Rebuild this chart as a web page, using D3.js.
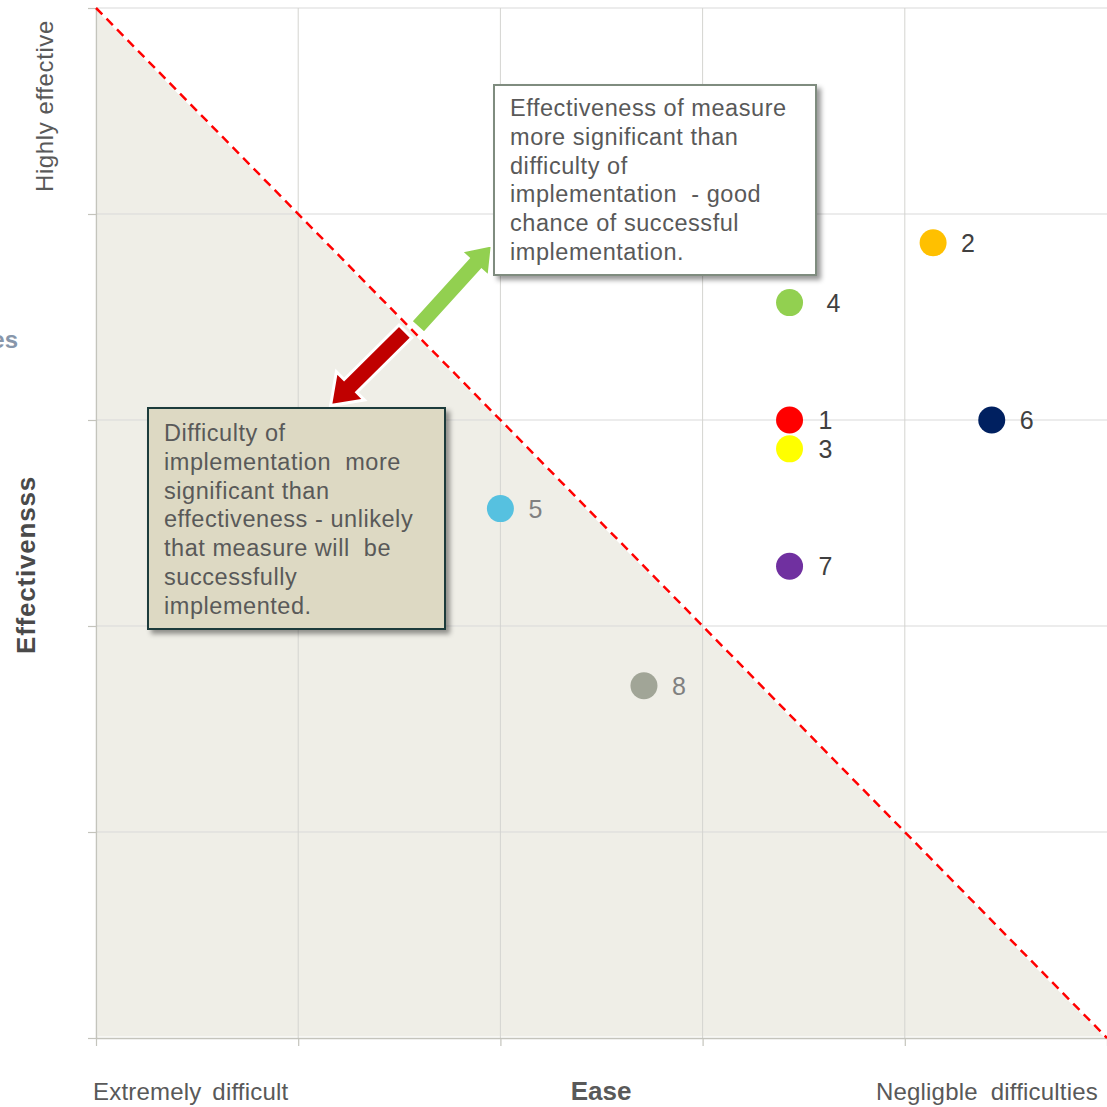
<!DOCTYPE html>
<html>
<head>
<meta charset="utf-8">
<script src="https://cdn.jsdelivr.net/npm/d3@7/dist/d3.min.js"></script>
<style>
  html, body { margin: 0; padding: 0; background: #fff; }
  svg { display: block; font-family: "Liberation Sans", Arial, sans-serif; }
</style>
</head>
<body>
<svg id="chart" width="1107" height="1107"></svg>
<script>
// Measures rated on ease of implementation (x) and effectiveness (y), 0–5 scale
const measureIds   = ["1", "2", "3", "4", "5", "6", "7", "8"];
const easeValues   = [3.43, 4.14, 3.43, 3.43, 2.0, 4.43, 3.43, 2.71];
const effectValues = [3.0, 3.86, 2.86, 3.57, 2.57, 3.0, 2.29, 1.71];
const measureColors = ["#ff0000", "#ffc000", "#ffff00", "#92d050", "#56c1e0", "#002060", "#7030a0", "#a1a597"];
const labelColors   = ["#404040", "#404040", "#404040", "#404040", "#808080", "#404040", "#404040", "#808080"];
const labelOffsets  = [29, 28, 29, 37, 28, 28, 29, 28];

const tickValues = [0, 1, 2, 3, 4, 5];
const xAxisLabels = ["Extremely difficult", "Ease", "Negligble difficulties"];
const yAxisLabels = ["Highly effective", "Effectivensss"];

const goodNote = ["Effectiveness of measure", "more significant than", "difficulty of",
                  "implementation  - good", "chance of successful", "implementation."];
const badNote  = ["Difficulty of", "implementation  more", "significant than",
                  "effectiveness - unlikely", "that measure will  be", "successfully", "implemented."];

// Arrow annotations in data units: [tailX, tailY, tipX, tipY]
const goodArrow = [1.59, 3.45, 1.96, 3.85];
const badArrow  = [1.53, 3.43, 1.16, 3.07];

const svg = d3.select("#chart");
const x = d3.scaleLinear().domain([0, 5]).range([96, 1107]);
const y = d3.scaleLinear().domain([0, 5]).range([1038, 8]);

const defs = svg.append("defs");
const shadow = defs.append("filter").attr("id", "shadow")
  .attr("x", "-10%").attr("y", "-10%").attr("width", "130%").attr("height", "130%");
shadow.append("feDropShadow").attr("dx", 4).attr("dy", 4).attr("stdDeviation", 2.5)
  .attr("flood-color", "#000").attr("flood-opacity", 0.4);

// Shaded "unlikely" half below the diagonal
svg.append("path")
  .attr("d", d3.line()([[x(0), y(5)], [x(0), y(0)], [x(5), y(0)]]) + "Z")
  .attr("fill", "#efeee7")
  .attr("stroke", "#fff").attr("stroke-width", 3);

// Grid
const grid = svg.append("g");
grid.selectAll("line.h").data(tickValues.slice(1)).join("line")
  .attr("x1", x(0)).attr("x2", x(5))
  .attr("y1", d => y(d)).attr("y2", d => y(d))
  .attr("stroke", "#d9d9d9").attr("stroke-width", 1);
grid.selectAll("line.v").data(tickValues.slice(1, 5)).join("line")
  .attr("y1", y(0)).attr("y2", y(5))
  .attr("x1", d => x(d)).attr("x2", d => x(d))
  .attr("stroke", "#d4d4d0").attr("stroke-width", 1);

// Axes
const yAxis = svg.append("g").attr("transform", `translate(${x(0)},0)`)
  .call(d3.axisLeft(y).tickValues(tickValues).tickSize(8).tickSizeOuter(0).tickFormat(""));
const xAxis = svg.append("g").attr("transform", `translate(0,${y(0)})`)
  .call(d3.axisBottom(x).tickValues(tickValues).tickSize(8).tickSizeOuter(0).tickFormat(""));
[yAxis, xAxis].forEach(a => {
  a.select(".domain").attr("stroke", "#c4c4bc").attr("stroke-width", 1.5);
  a.selectAll(".tick line").attr("stroke", "#c4c4bc").attr("stroke-width", 1.2);
});

// Diagonal divider
svg.append("line")
  .attr("x1", x(0)).attr("y1", y(5)).attr("x2", x(5)).attr("y2", y(0))
  .attr("stroke", "#ff0000").attr("stroke-width", 2.5)
  .attr("stroke-dasharray", "9,6");

// Arrow polygon along tail→tip
function arrowPath(a, shaft, headW, headL) {
  const x0 = x(a[0]), y0 = y(a[1]), x1 = x(a[2]), y1 = y(a[3]);
  const dx = x1 - x0, dy = y1 - y0, len = Math.hypot(dx, dy);
  const ux = dx / len, uy = dy / len, px = -uy, py = ux;
  const bx = x1 - ux * headL, by = y1 - uy * headL;
  const pts = [
    [x0 + px * shaft / 2, y0 + py * shaft / 2],
    [bx + px * shaft / 2, by + py * shaft / 2],
    [bx + px * headW / 2, by + py * headW / 2],
    [x1, y1],
    [bx - px * headW / 2, by - py * headW / 2],
    [bx - px * shaft / 2, by - py * shaft / 2],
    [x0 - px * shaft / 2, y0 - py * shaft / 2]
  ];
  return d3.line()(pts) + "Z";
}
svg.append("path").attr("d", arrowPath(goodArrow, 18, 38, 26))
  .attr("fill", "#92d050").attr("stroke", "#fff").attr("stroke-width", 3);
svg.append("path").attr("d", arrowPath(badArrow, 18, 40, 28))
  .attr("fill", "#c00000").attr("stroke", "#fff").attr("stroke-width", 3);

// Note boxes
function noteBox(bx, by, bw, bh, fill, stroke, lines, tx, ty) {
  const g = svg.append("g");
  g.append("rect").attr("x", bx).attr("y", by).attr("width", bw).attr("height", bh)
    .attr("fill", fill).attr("stroke", stroke).attr("stroke-width", 2)
    .attr("filter", "url(#shadow)");
  g.selectAll("text").data(lines).join("text")
    .attr("x", tx).attr("y", (d, i) => ty + i * 28.8)
    .attr("font-size", 23.5).attr("letter-spacing", 0.55).attr("fill", "#595959")
    .style("white-space", "pre")
    .text(d => d);
}
noteBox(494, 85, 322, 190, "#ffffff", "#7f8c7f", goodNote, 510, 116);
noteBox(148, 408, 297, 221, "#ddd9c3", "#1d3a3a", badNote, 164, 441);

// Measures
const pts = svg.append("g");
pts.selectAll("circle").data(measureIds).join("circle")
  .attr("cx", (d, i) => x(easeValues[i]))
  .attr("cy", (d, i) => y(effectValues[i]))
  .attr("r", 13.5)
  .attr("fill", (d, i) => measureColors[i]);
pts.selectAll("text").data(measureIds).join("text")
  .attr("x", (d, i) => x(easeValues[i]) + labelOffsets[i])
  .attr("y", (d, i) => y(effectValues[i]) + 9)
  .attr("font-size", 25)
  .attr("fill", (d, i) => labelColors[i])
  .text(d => d);

// Axis titles
svg.append("text").attr("x", 93).attr("y", 1100)
  .attr("font-size", 24).attr("letter-spacing", 0.2).attr("word-spacing", 4)
  .attr("fill", "#595959").text(xAxisLabels[0]);
svg.append("text").attr("x", 601).attr("y", 1100).attr("text-anchor", "middle")
  .attr("font-size", 26).attr("font-weight", "bold").attr("fill", "#595959").text(xAxisLabels[1]);
svg.append("text").attr("x", 1098).attr("y", 1100).attr("text-anchor", "end")
  .attr("font-size", 24).attr("letter-spacing", 0.2).attr("word-spacing", 6)
  .attr("fill", "#595959").text(xAxisLabels[2]);

svg.append("text").attr("transform", "translate(53,192) rotate(-90)")
  .attr("font-size", 24).attr("letter-spacing", 0.6).attr("fill", "#595959").text(yAxisLabels[0]);
svg.append("text").attr("transform", "translate(35,565) rotate(-90)").attr("text-anchor", "middle")
  .attr("font-size", 26).attr("letter-spacing", 0.8).attr("font-weight", "bold")
  .attr("fill", "#4a4a4a").text(yAxisLabels[1]);

// Clipped fragment of a category label at the left edge
svg.append("text").attr("x", 18).attr("y", 348).attr("text-anchor", "end")
  .attr("font-size", 24).attr("font-weight", "bold").attr("fill", "#8796aa").text("es");
</script>
</body>
</html>
